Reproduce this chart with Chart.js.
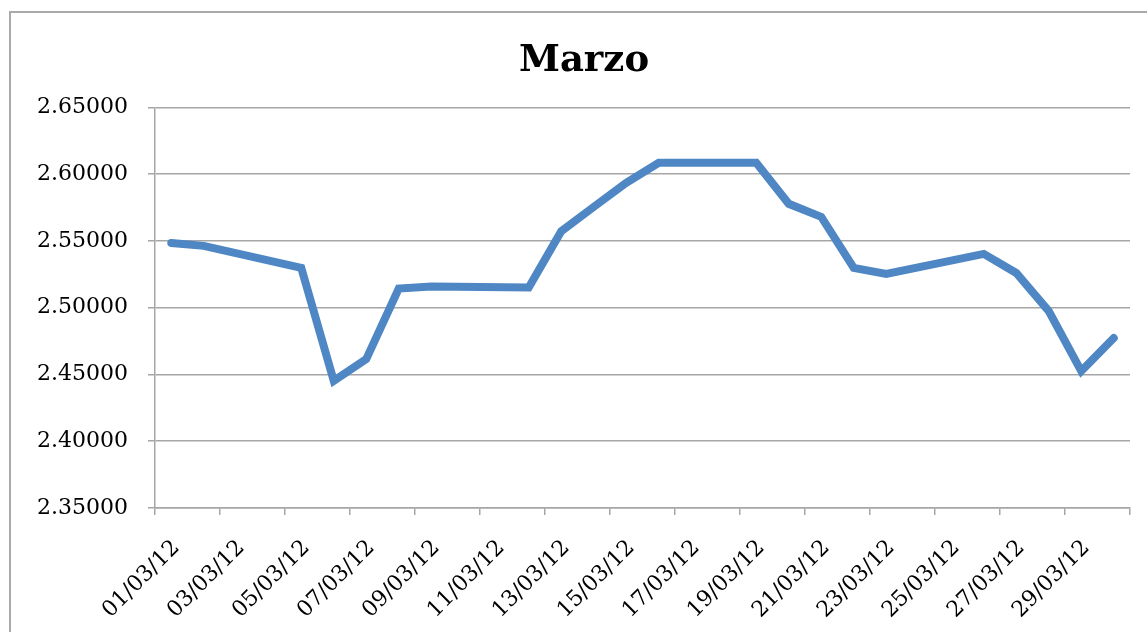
<!DOCTYPE html>
<html>
<head>
<meta charset="utf-8">
<script src="https://cdn.jsdelivr.net/npm/chart.js@4.4.1/dist/chart.umd.min.js"></script>
<style>
  html, body { margin: 0; padding: 0; background: #fff; overflow: hidden; }
  #frame { position: absolute; left: 9px; top: 11px; width: 1200px; height: 700px; border: 2px solid #a9a9a9; }
  #wrap { position: absolute; left: 0; top: 0; width: 1147px; height: 632px; }
</style>
</head>
<body>
<div id="frame"></div>
<div id="wrap"><canvas id="chart"></canvas></div>
<script>
// one category per day of March 2012, weekends left empty
const days = [
    '01/03/12', '02/03/12', '03/03/12', '04/03/12', '05/03/12', '06/03/12', '07/03/12', '08/03/12',
    '09/03/12', '10/03/12', '11/03/12', '12/03/12', '13/03/12', '14/03/12', '15/03/12', '16/03/12',
    '17/03/12', '18/03/12', '19/03/12', '20/03/12', '21/03/12', '22/03/12', '23/03/12', '24/03/12',
    '25/03/12', '26/03/12', '27/03/12', '28/03/12', '29/03/12', '30/03/12'
];
const rates = [
    2.5485, 2.5463, null, null, 2.5298, 2.4452, 2.4615, 2.5144,
    2.5159, null, null, 2.5152, 2.5572, 2.5755, 2.5935, 2.6085,
    null, null, 2.6085, 2.5778, 2.5680, 2.5298, 2.5253, null,
    null, 2.5403, 2.5260, 2.4975, 2.4525, 2.4773
];
const yTicks = [2.35, 2.40, 2.45, 2.50, 2.55, 2.60, 2.65];

const gridGray = '#a6a6a6';
const serif = 'DejaVu Serif';

new Chart(document.getElementById('chart'), {
    type: 'line',
    data: {
        labels: days,
        datasets: [{
            data: rates,
            borderColor: '#4F86C4',
            borderWidth: 8,
            borderCapStyle: 'round',
            pointRadius: 0,
            tension: 0,
            spanGaps: true
        }]
    },
    options: {
        responsive: true,
        maintainAspectRatio: false,
        animation: false,
        layout: { padding: { left: 38, right: 17, top: 0, bottom: 0 } },
        plugins: {
            legend: { display: false },
            tooltip: { enabled: false },
            title: {
                display: true,
                text: 'Marzo',
                color: '#000',
                font: { family: serif, size: 37, weight: 'bold' },
                padding: { top: 39, bottom: 24 }
            }
        },
        scales: {
            x: {
                offset: true,
                grid: {
                    offset: true,
                    drawOnChartArea: false,
                    tickLength: 7,
                    lineWidth: 1.5,
                    color: ctx => (ctx.index === undefined || ctx.index % 2 === 0) ? gridGray : 'rgba(0,0,0,0)'
                },
                border: { color: gridGray, width: 1.5 },
                ticks: {
                    autoSkip: false,
                    minRotation: 45,
                    maxRotation: 45,
                    padding: 20,
                    labelOffset: 5,
                    color: '#000',
                    font: { family: serif, size: 22 },
                    callback: (v, i) => i % 2 === 0 ? days[i] : ''
                },
                afterFit: s => {
                    s.height = 124;
                    s.paddingLeft = 0;
                    s.paddingRight = 0;
                }
            },
            y: {
                min: 2.35,
                max: 2.65,
                grid: { color: gridGray, lineWidth: 1.5, tickLength: 7 },
                border: { color: gridGray, width: 1.5 },
                ticks: {
                    padding: 20,
                    color: '#000',
                    font: { family: serif, size: 22 },
                    callback: v => v.toFixed(5)
                },
                afterBuildTicks: s => { s.ticks = yTicks.map(v => ({ value: v })); },
                afterFit: s => { s.width = 117; }
            }
        }
    }
});
</script>
</body>
</html>
